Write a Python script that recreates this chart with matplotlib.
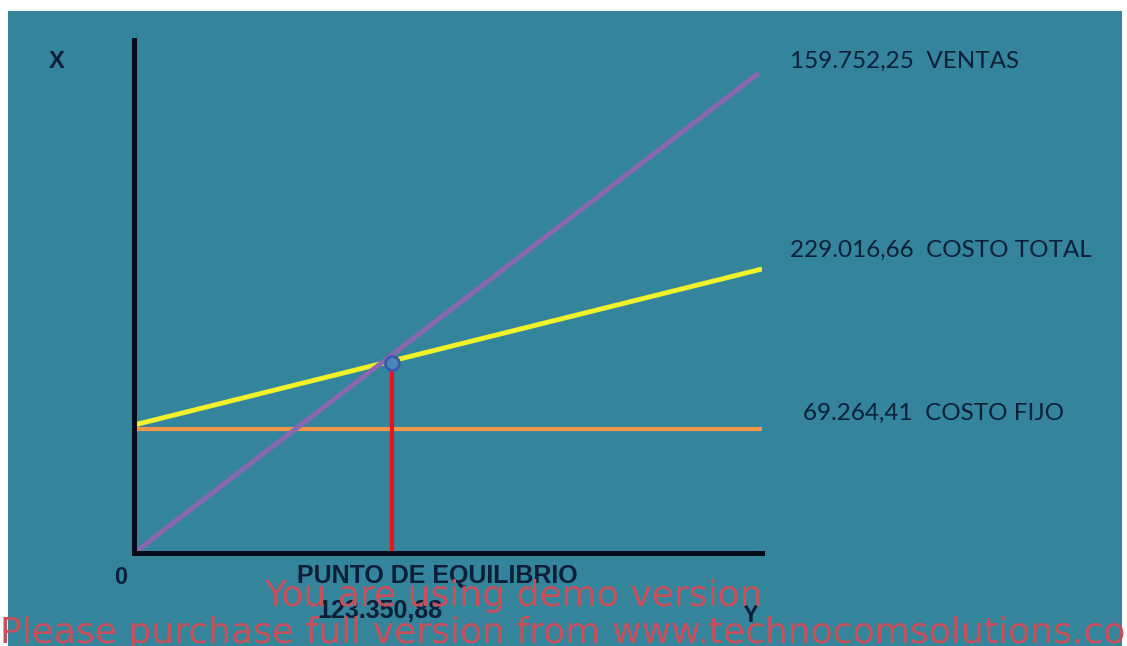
import matplotlib.pyplot as plt
from matplotlib.patches import Rectangle

# datos del grafico (unidades en x, valores en y)
x_ends = [0, 300250]
ventas = [0, 268100]
ventas_x = [0, 298800]
costo_total = [71500, 158650]
costo_fijo = [69264.41, 69264.41]
pe_x = 123350.88
pe_y = 106130
y_top = 286560

label_ventas = '159.752,25  VENTAS'
label_total = '229.016,66  COSTO TOTAL'
label_fijo = '69.264,41  COSTO FIJO'
label_pe = 'PUNTO DE EQUILIBRIO'
label_pe_val = '123.350,88'

bg = '#34849b'
txt = '#0c1f38'

fig = plt.figure(figsize=(11.27, 6.46), dpi=100)
fig.patch.set_facecolor('white')
fig.patches.append(Rectangle((8 / 1127, 0), (1122 - 8) / 1127, (646 - 11) / 646,
                             transform=fig.transFigure, facecolor=bg,
                             edgecolor='none', zorder=-1))

ax = fig.add_axes([134 / 1127, (646 - 553) / 646, 628 / 1127, 513 / 646])
ax.set_zorder(1)
ax.set_facecolor('none')
ax.set_xlim(0, x_ends[1])
ax.set_ylim(0, y_top)
for s in ['top', 'right']:
    ax.spines[s].set_visible(False)
for s in ['left', 'bottom']:
    ax.spines[s].set_color('#050a18')
    ax.spines[s].set_linewidth(3.6)
    ax.spines[s].set_zorder(5)
ax.set_xticks([])
ax.set_yticks([])

ax.plot(x_ends, costo_fijo, color='#f0964a', lw=3.0, solid_capstyle='butt', zorder=2)
ax.plot(x_ends, costo_total, color='#f2f22a', lw=3.5, solid_capstyle='butt', zorder=3)
ax.plot(ventas_x, ventas, color='#8a68b0', lw=3.6, solid_capstyle='butt', zorder=3)
ax.plot([pe_x, pe_x], [0, pe_y], color='#e8141e', lw=3.0, solid_capstyle='butt', zorder=4)
ax.plot([pe_x], [pe_y], marker='o', ms=10, mfc='#4a86b8', mec='#3a58a8', mew=2, zorder=6)

lab = dict(family=['Lato', 'DejaVu Sans'], fontsize=17.5, color=txt, va='center', ha='left')
fig.text(790 / 1127, 1 - 61 / 646, label_ventas, **lab)
fig.text(790 / 1127, 1 - 250 / 646, label_total, **lab)
fig.text(803 / 1127, 1 - 413 / 646, label_fijo, **lab)

arial = ['Liberation Sans', 'DejaVu Sans']
fig.text(57 / 1127, 1 - 61 / 646, 'X', family=arial, fontsize=17, weight='bold',
         color=txt, ha='center', va='center')
fig.text(121 / 1127, 1 - 578 / 646, '0', family=arial, fontsize=17, weight='bold',
         color=txt, ha='center', va='center')
fig.text(437 / 1127, 1 - 576 / 646, label_pe, family=arial, fontsize=18, weight='bold',
         color=txt, ha='center', va='center')
fig.text(380 / 1127, 1 - 611 / 646, label_pe_val, family=arial, fontsize=18, weight='bold',
         color=txt, ha='center', va='center')
fig.text(750 / 1127, 1 - 615 / 646, 'Y', family=arial, fontsize=17, weight='bold',
         color=txt, ha='center', va='center')

# marca de agua de la imagen original
wm = dict(family=['DejaVu Sans'], color='#c8505a', fontsize=26, zorder=10)
fig.text(513 / 1127, 1 - 596 / 646, 'You are using demo version', ha='center', va='center', **wm)
fig.text(0, 1 - 633 / 646, 'Please purchase full version from www.technocomsolutions.co',
         ha='left', va='center', **wm)

fig.savefig('out.png', dpi=100, facecolor=fig.get_facecolor())
